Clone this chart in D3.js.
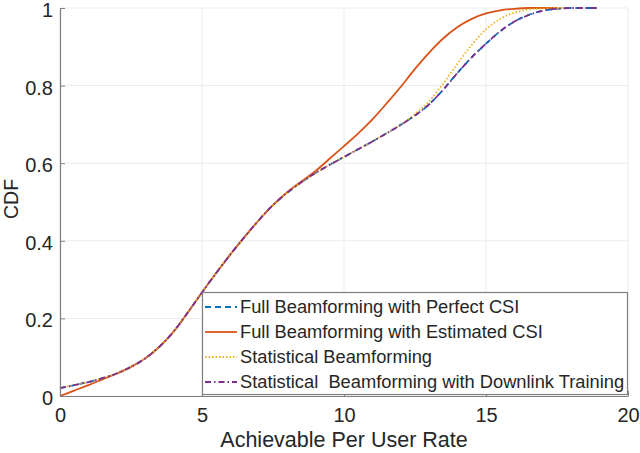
<!DOCTYPE html>
<html lang="en">
<head>
    <meta charset="UTF-8">
    <title>CDF of Achievable Per User Rate</title>
    <script type="text/javascript" src="https://d3js.org/d3.v7.min.js"></script>
    <style>
        body { margin: 0; background: #fff; }
        text { font-family: "Liberation Sans", Arial, sans-serif; fill: #262626; }
    </style>
</head>
<body>

    <svg id="svg" width=640 height=453></svg>

    <script>
        // data
        const rate = [0, 0.5, 1, 1.5, 2, 2.5, 3, 3.5, 4, 4.5, 5, 5.5, 6, 6.5, 7, 7.5, 8, 8.5, 9, 9.5,
                      10, 10.5, 11, 11.5, 12, 12.5, 13, 13.5, 14, 14.5, 15, 15.5, 16, 16.5, 17, 17.5, 18, 18.5, 18.9];

        const perfectCSI = [0.02, 0.028, 0.036, 0.046, 0.058, 0.075, 0.097, 0.127, 0.166, 0.215, 0.267, 0.317, 0.365, 0.41, 0.453, 0.492, 0.524, 0.551, 0.575, 0.596,
                            0.616, 0.636, 0.656, 0.677, 0.699, 0.723, 0.752, 0.79, 0.833, 0.873, 0.908, 0.94, 0.965, 0.982, 0.993, 0.998, 1, 1, 1];

        const estimatedCSI = [0, 0.014, 0.028, 0.043, 0.058, 0.075, 0.097, 0.127, 0.166, 0.215, 0.267, 0.317, 0.365, 0.41, 0.453, 0.492, 0.525, 0.553, 0.58, 0.612,
                              0.644, 0.677, 0.713, 0.754, 0.797, 0.843, 0.885, 0.922, 0.951, 0.972, 0.986, 0.994, 0.998, 1, 1, 1];

        const statistical = [0.02, 0.028, 0.036, 0.046, 0.058, 0.075, 0.097, 0.127, 0.166, 0.215, 0.267, 0.317, 0.365, 0.41, 0.453, 0.492, 0.524, 0.551, 0.575, 0.596,
                             0.616, 0.636, 0.656, 0.677, 0.699, 0.727, 0.76, 0.806, 0.857, 0.905, 0.945, 0.972, 0.988, 0.996, 0.999, 1, 1];

        const downlinkTraining = [0.02, 0.028, 0.036, 0.046, 0.058, 0.075, 0.097, 0.127, 0.166, 0.215, 0.267, 0.317, 0.365, 0.41, 0.453, 0.492, 0.524, 0.551, 0.575, 0.596,
                                  0.616, 0.636, 0.656, 0.677, 0.699, 0.723, 0.752, 0.79, 0.833, 0.873, 0.908, 0.94, 0.965, 0.982, 0.993, 0.998, 1, 1, 1];

        const seriesNames = ["Full Beamforming with Perfect CSI", "Full Beamforming with Estimated CSI",
                             "Statistical Beamforming", "Statistical\u00a0 Beamforming with Downlink Training"];
        const xTicks = [0, 5, 10, 15, 20];
        const yTicks = [0, 0.2, 0.4, 0.6, 0.8, 1];

        const series = [
            { name: seriesNames[0], values: perfectCSI, color: "#0072BD", dash: "6,4" },
            { name: seriesNames[1], values: estimatedCSI, color: "#D95319", dash: null },
            { name: seriesNames[2], values: statistical, color: "#EDB120", dash: "1.5,2" },
            { name: seriesNames[3], values: downlinkTraining, color: "#7E2F8E", dash: "6,3,1.5,3" }
        ];

        let svg = d3.select('svg');
        const plotLeft = 60, plotRight = 628, plotTop = 8, plotBottom = 396;

        let x = d3.scaleLinear().domain([0, 20]).range([plotLeft, plotRight]);
        let y = d3.scaleLinear().domain([0, 1]).range([plotBottom, plotTop]);

        // grid
        let grid = svg.append('g');
        grid.selectAll('line.gx')
            .data(xTicks)
            .enter()
            .append('line')
            .attr('class', 'gx')
            .attr('x1', d => x(d)).attr('x2', d => x(d))
            .attr('y1', plotTop).attr('y2', plotBottom)
            .attr('stroke', '#ebebeb').attr('stroke-width', 1);
        grid.selectAll('line.gy')
            .data(yTicks)
            .enter()
            .append('line')
            .attr('class', 'gy')
            .attr('x1', plotLeft).attr('x2', plotRight)
            .attr('y1', d => y(d)).attr('y2', d => y(d))
            .attr('stroke', '#ebebeb').attr('stroke-width', 1);

        // curves
        let line = d3.line()
            .x(d => x(d[0]))
            .y(d => y(d[1]))
            .curve(d3.curveMonotoneX);

        svg.append('g').selectAll('path')
            .data(series)
            .enter()
            .append('path')
            .attr('d', s => line(s.values.map((v, i) => [rate[i], v])))
            .attr('fill', 'none')
            .attr('stroke', s => s.color)
            .attr('stroke-width', 1.8)
            .attr('stroke-dasharray', s => s.dash);

        // axes (matlab style: ticks inside)
        let xAxis = d3.axisBottom(x).tickValues(xTicks).tickSizeInner(-5).tickSizeOuter(0).tickPadding(12).tickFormat(d3.format('d'));
        let yAxis = d3.axisLeft(y).tickValues(yTicks).tickSizeInner(-5).tickSizeOuter(0).tickPadding(7).tickFormat(d => d === 0 || d === 1 ? d : d.toFixed(1));

        let gx = svg.append('g').attr('transform', `translate(0,${plotBottom})`).call(xAxis);
        let gy = svg.append('g').attr('transform', `translate(${plotLeft},0)`).call(yAxis);
        [gx, gy].forEach(g => {
            g.select('.domain').attr('stroke', '#808080').attr('stroke-width', 1.2);
            g.selectAll('.tick line').attr('stroke', '#808080');
            g.selectAll('.tick text').style('font-size', '20px').attr('fill', '#262626')
                .style('font-family', '"Liberation Sans", Arial, sans-serif');
        });
        gy.selectAll('.tick text').attr('dy', '0.42em');

        svg.append('text')
            .attr('x', (plotLeft + plotRight) / 2).attr('y', 447)
            .attr('text-anchor', 'middle')
            .style('font-size', '21.5px')
            .text('Achievable Per User Rate');

        svg.append('text')
            .attr('transform', `translate(18,199) rotate(-90)`)
            .attr('text-anchor', 'middle')
            .style('font-size', '19.5px')
            .text('CDF');

        // legend
        let legend = svg.append('g');
        legend.append('rect')
            .attr('x', 202.5).attr('y', 292.5)
            .attr('width', 425).attr('height', 102)
            .attr('fill', '#fff')
            .attr('stroke', '#808080').attr('stroke-width', 1.2);

        let items = legend.selectAll('g.item')
            .data(series)
            .enter()
            .append('g')
            .attr('class', 'item')
            .attr('transform', (d, i) => `translate(0,${307 + i * 25})`);
        items.append('line')
            .attr('x1', 205).attr('x2', 237)
            .attr('y1', 0).attr('y2', 0)
            .attr('stroke', d => d.color)
            .attr('stroke-width', 1.8)
            .attr('stroke-dasharray', d => d.dash);
        items.append('text')
            .attr('x', 240).attr('y', 0).attr('dy', '0.35em')
            .style('font-size', '18.3px')
            .text(d => d.name);
    </script>

</body>
</html>
